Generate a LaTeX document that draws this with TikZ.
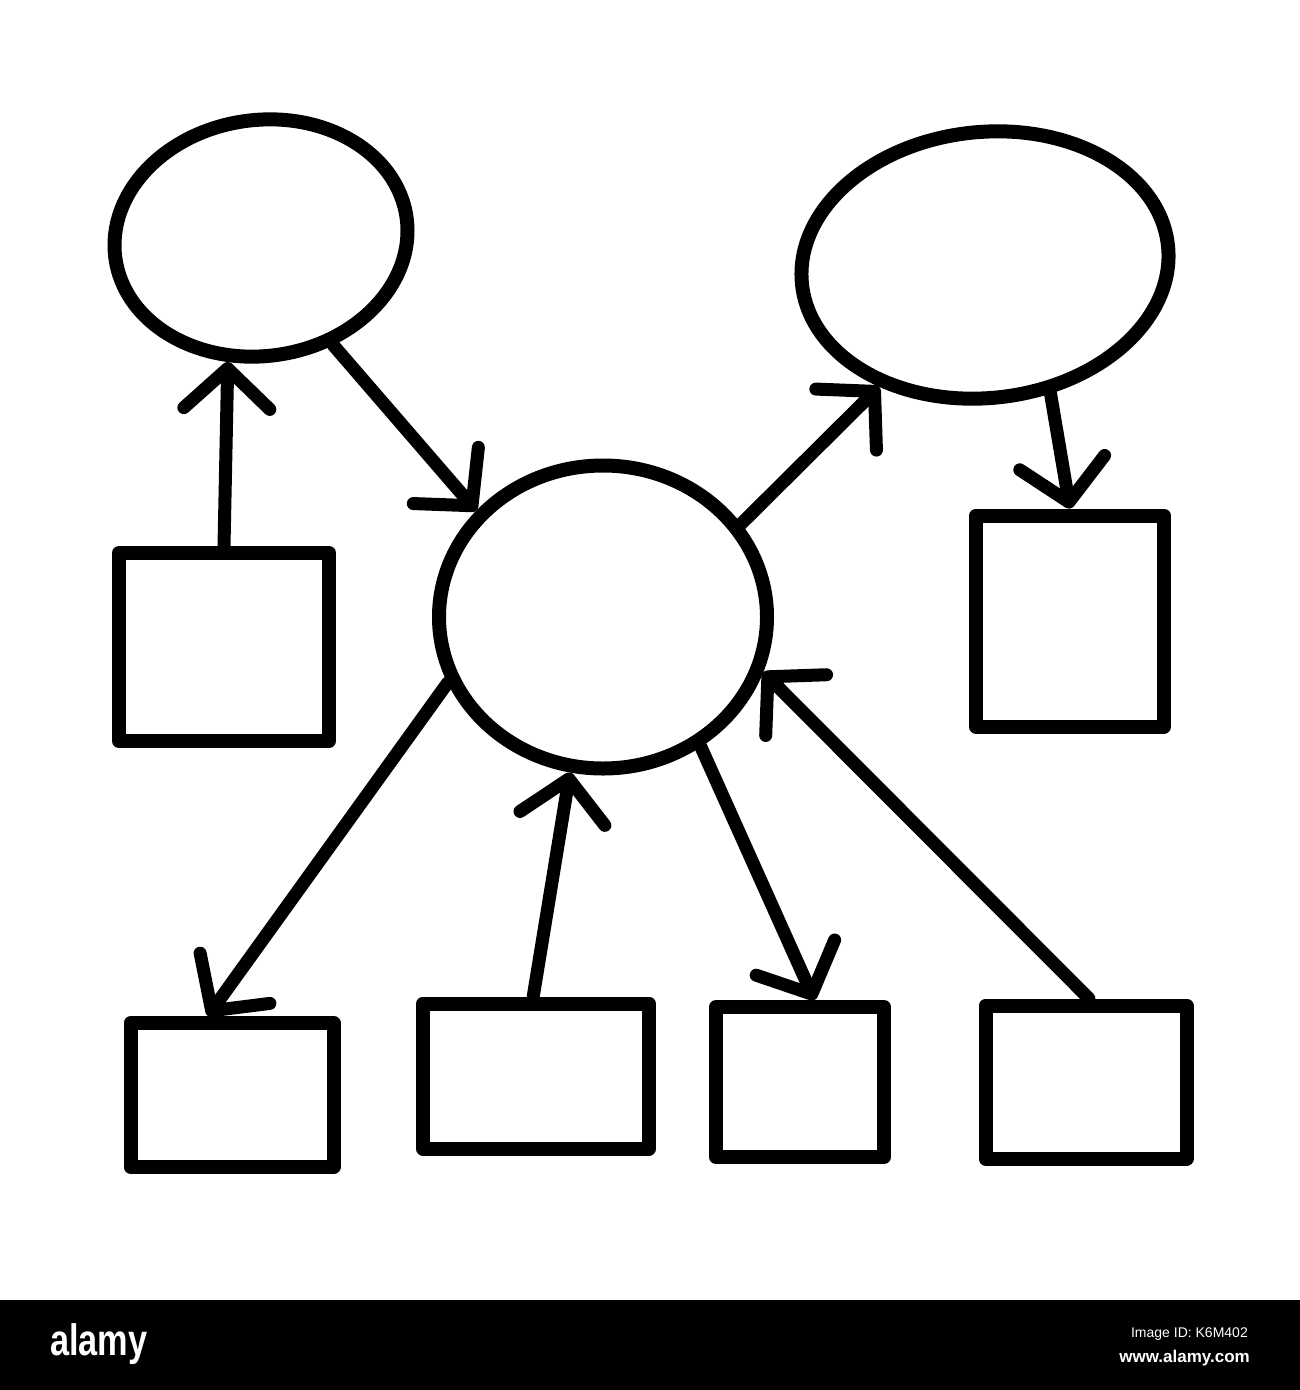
\documentclass[tikz,border=0pt]{standalone}
\usepackage{fontspec}
\setsansfont{Liberation Sans}
\usetikzlibrary{shapes.geometric,arrows.meta}

\begin{document}
\begin{tikzpicture}[x=1pt,y=-1pt,
    pen/.style={line width=14pt,line cap=round,line join=round},
    bubble/.style={pen,draw,ellipse,inner sep=0pt},
    box/.style={pen,draw,rectangle,inner sep=0pt},
    link/.style={pen,line width=13pt,-{Straight Barb[length=40pt,width=86pt,round]}},
    banner/.style={white,inner sep=0pt}]
  \useasboundingbox (0,0) rectangle (1300,1390);
  \fill[white] (0,0) rectangle (1300,1390);
  % bubbles
  \node[bubble,minimum width=294pt,minimum height=236pt,rotate=8] (tl) at (261,238) {};
  \node[bubble,minimum width=368pt,minimum height=266pt,rotate=6] (tr) at (985,265) {};
  \node[bubble,minimum width=328pt,minimum height=303pt] (hub) at (603,617) {};
  % boxes
  \node[box,minimum width=210pt,minimum height=188pt] (lbox) at (224,647) {};
  \node[box,minimum width=188pt,minimum height=211pt] (rbox) at (1070,621) {};
  \node[box,minimum width=203pt,minimum height=144pt] (bone) at (232,1095) {};
  \node[box,minimum width=226pt,minimum height=145pt] (btwo) at (536,1076) {};
  \node[box,minimum width=168pt,minimum height=150pt] (bthree) at (800,1082) {};
  \node[box,minimum width=201pt,minimum height=153pt] (bfour) at (1086,1082) {};
  % connectors
  \draw[link] (lbox.north) -- (tl.-113);
  \draw[link] (tl.-64) -- (hub.140);
  \draw[link] (hub.34) -- (tr.-137);
  \draw[link] (tr.-69) -- (rbox.north);
  \draw[link] (hub.203) -- (bone.107);
  \draw[link] (btwo.92) -- (hub.-102);
  \draw[link] (hub.-53) -- (bthree.80);
  \draw[link] (bfour.88) -- (hub.-19);
  % banner
  \fill[black] (0,1300) rectangle (1300,1390);
  \node[banner,xscale=0.78,font=\sffamily\bfseries\fontsize{44pt}{44pt}\selectfont,anchor=base west] (logo) at (50,1355) {alamy};
  \node[banner,font=\sffamily\fontsize{14pt}{14pt}\selectfont,anchor=base east] (imgid) at (1248,1337) {Image ID: K6M402};
  \node[banner,font=\sffamily\bfseries\fontsize{17pt}{17pt}\selectfont,anchor=base east] (site) at (1250,1362) {www.alamy.com};
\end{tikzpicture}
\end{document}
